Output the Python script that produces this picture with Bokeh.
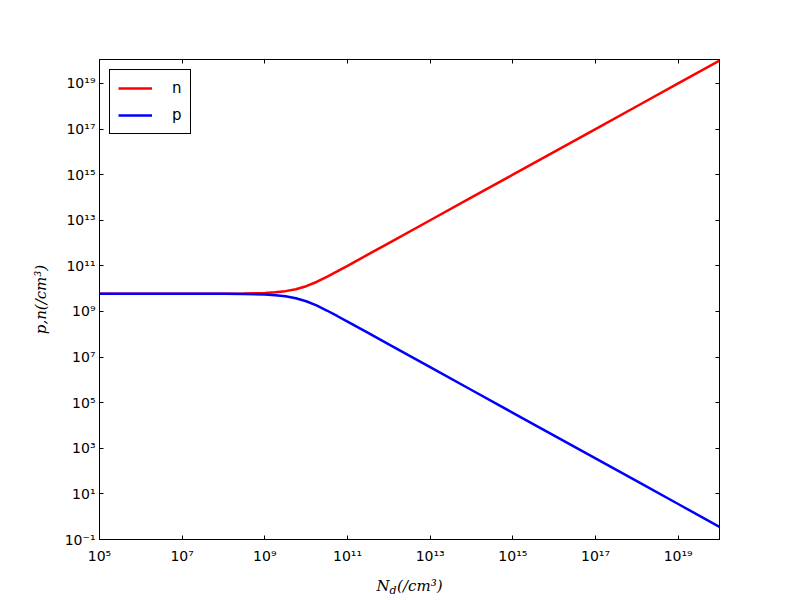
from bokeh.plotting import figure
from bokeh.models import (Range1d, FixedTicker, LogAxis, Legend, LegendItem, Label)
from bokeh.embed import file_html
from bokeh.resources import INLINE

# ---- data ----
nd = [1e5, 1e6, 1e7, 1e8, 3.16e8, 1e9, 1.78e9, 3.16e9, 5.62e9, 1e10, 1.78e10,
      3.16e10, 5.62e10, 1e11, 3.16e11, 1e12, 1e13, 1e14, 1e15, 1e16, 1e17,
      1e18, 1e19, 1e20]
n_vals = [6.0e9, 6.0e9, 6.0e9, 6.05e9, 6.16e9, 6.52e9, 6.95e9, 7.78e9, 9.44e9,
          1.28e10, 1.96e10, 3.27e10, 5.68e10, 1.004e11, 3.163e11, 1.0e12, 1e13,
          1e14, 1e15, 1e16, 1e17, 1e18, 1e19, 1e20]
p_vals = [6.0e9, 6.0e9, 6.0e9, 5.95e9, 5.84e9, 5.52e9, 5.18e9, 4.63e9, 3.81e9,
          2.81e9, 1.84e9, 1.10e9, 6.34e8, 3.59e8, 1.14e8, 3.6e7, 3.6e6, 3.6e5,
          3.6e4, 3.6e3, 3.6e2, 3.6e1, 3.6, 0.36]

x_tick_exps = [5, 7, 9, 11, 13, 15, 17, 19]
y_tick_exps = [-1, 1, 3, 5, 7, 9, 11, 13, 15, 17, 19]
series_names = ["n", "p"]
series_colors = ["red", "blue"]
x_label_main = "N\u2002(/cm³)"
x_label_sub = "d"
y_label = "p,n(/cm³)"

SUP = str.maketrans("-0123456789", "⁻⁰¹²³⁴⁵⁶⁷⁸⁹")


def tick_label(e):
    return "10" + str(e).translate(SUP)


x_ticks = [10.0 ** e for e in x_tick_exps]
y_ticks = [10.0 ** e for e in y_tick_exps]

p = figure(x_axis_type="log", y_axis_type="log",
           x_range=Range1d(1e5, 1e20), y_range=Range1d(1e-1, 1.12e20),
           frame_width=620, frame_height=480,
           min_border_left=99, min_border_right=81,
           min_border_top=59, min_border_bottom=61,
           output_backend="svg", toolbar_location=None,
           background_fill_color="white", border_fill_color="white")

p.grid.visible = False
p.outline_line_color = "black"
p.outline_line_width = 1

r_n = p.line(nd, n_vals, line_color=series_colors[0], line_width=2.5)
r_p = p.line(nd, p_vals, line_color=series_colors[1], line_width=2.5)

SERIF = "DejaVu Serif"

# main axes
for ax, ticks, exps in ((p.xaxis[0], x_ticks, x_tick_exps),
                        (p.yaxis[0], y_ticks, y_tick_exps)):
    ax.ticker = FixedTicker(ticks=ticks, minor_ticks=[])
    ax.major_label_overrides = {t: tick_label(e) for t, e in zip(ticks, exps)}
    ax.major_tick_in = 4
    ax.major_tick_out = 0
    ax.minor_tick_in = 0
    ax.minor_tick_out = 0
    ax.axis_line_color = "black"
    ax.major_tick_line_color = "black"
    ax.major_label_text_font = "DejaVu Sans"
    ax.major_label_text_font_size = "14px"
    ax.major_label_text_color = "black"
    ax.axis_label_text_font = SERIF
    ax.axis_label_text_font_size = "15px"
    ax.axis_label_text_font_style = "italic"
    ax.axis_label_text_color = "black"

p.xaxis[0].major_label_standoff = 8
p.yaxis[0].major_label_standoff = 4
p.xaxis[0].axis_label = x_label_main
p.xaxis[0].axis_label_standoff = 10
p.yaxis[0].axis_label = y_label
p.yaxis[0].axis_label_standoff = 12

# top and right axes with inward ticks only (labels invisible)
top = LogAxis(ticker=FixedTicker(ticks=x_ticks, minor_ticks=[]),
              major_tick_in=4, major_tick_out=0, minor_tick_in=0, minor_tick_out=0,
              major_label_text_alpha=0.0, major_label_text_font_size="10px",
              axis_line_color="black")
right = LogAxis(ticker=FixedTicker(ticks=y_ticks, minor_ticks=[]),
                major_tick_in=4, major_tick_out=0, minor_tick_in=0, minor_tick_out=0,
                major_label_text_alpha=0.0, major_label_text_font_size="10px",
                axis_line_color="black")
p.add_layout(top, "above")
p.add_layout(right, "right")

# subscript of the x label, drawn from a side panel (not clipped)
p.add_layout(Label(x=-330, y=-51, x_units="screen", y_units="screen",
                   text=x_label_sub, text_font=SERIF, text_font_size="11px",
                   text_font_style="italic", text_color="black",
                   text_align="left", text_baseline="alphabetic"), "right")

# legend
legend = Legend(items=[LegendItem(label=series_names[0], renderers=[r_n]),
                       LegendItem(label=series_names[1], renderers=[r_p])],
                location="top_left", margin=10, padding=8, spacing=7,
                label_height=20, glyph_height=20, glyph_width=34,
                label_width=10, label_standoff=20,
                label_text_font="DejaVu Sans", label_text_color="black",
                label_text_font_size="15px", border_line_color="black",
                border_line_width=1, border_line_alpha=1.0,
                background_fill_color="white", background_fill_alpha=1.0)
p.add_layout(legend)

open("out.html", "w").write(file_html(p, INLINE))
